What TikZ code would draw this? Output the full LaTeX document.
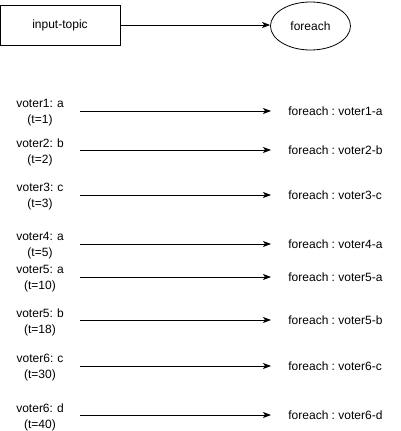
\documentclass[tikz,border=0pt]{standalone}
\usepackage{fontspec}
\setmainfont{Liberation Sans}
\usetikzlibrary{arrows.meta,shapes.geometric}

\begin{document}
\begin{tikzpicture}[x=1pt,y=-1pt,
  font=\fontsize{12}{16}\selectfont\frenchspacing,
  every path/.style={line width=0.8pt},
  topicbox/.style={draw,rectangle,minimum width=120pt,minimum height=40pt,inner sep=0pt},
  opnode/.style={draw,ellipse,minimum width=80pt,minimum height=48pt,inner sep=0pt},
  evlabel/.style={text width=56pt,align=center,inner xsep=12pt,inner ysep=0pt},
  outlabel/.style={anchor=west,inner xsep=17pt,inner ysep=0pt},
  flow/.style={-{Stealth[length=8pt,width=6pt,inset=2pt]}}]
\useasboundingbox (0,0) rectangle (401,431);

% Topic and processor
\node[topicbox] (topic) at (60,25) {input-topic};
\node[opnode] (fe) at (310.5,26) {foreach};
\draw[flow] (topic.east) -- (fe.west |- topic.east);

% Records and their results
\foreach \i/\lab/\t/\res/\y in {1/voter1: a/1/voter1-a/111,
                                2/voter2: b/2/voter2-b/150,
                                3/voter3: c/3/voter3-c/195,
                                4/voter4: a/5/voter4-a/244,
                                5/voter5: a/10/voter5-a/277,
                                6/voter5: b/18/voter5-b/320,
                                7/voter6: c/30/voter6-c/366,
                                8/voter6: d/40/voter6-d/415}{
  \node[evlabel] (ev\i) at (40,\y+2) {\lab\\(t=\t)};
  \node[outlabel] (out\i) at (271,\y) {foreach : \res};
  \draw[flow] (ev\i.east |- out\i.west) -- (out\i.west);
}
\end{tikzpicture}
\end{document}
